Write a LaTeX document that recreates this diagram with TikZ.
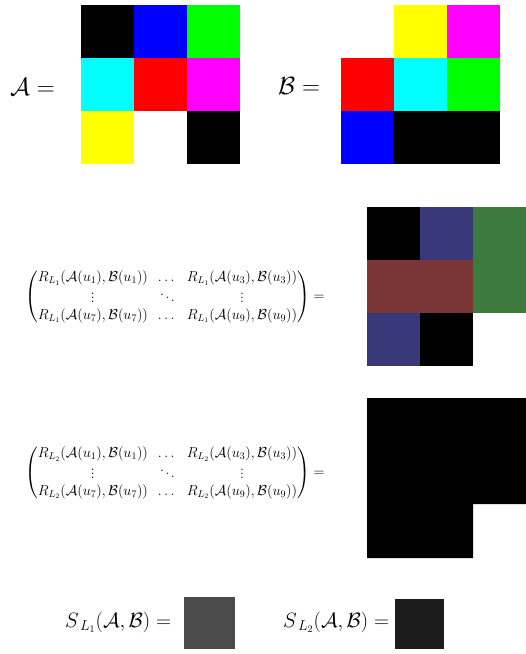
\documentclass[tikz,border=0pt]{standalone}
\usepackage{amsmath}
\definecolor{lblue}{RGB}{57,57,122}
\definecolor{lgreen}{RGB}{61,122,61}
\definecolor{lred}{RGB}{122,54,54}
\definecolor{sgrayA}{RGB}{75,75,75}
\definecolor{sgrayB}{RGB}{28,28,28}
\definecolor{pcyan}{RGB}{0,255,255}
\definecolor{pmagenta}{RGB}{255,0,255}
\definecolor{pyellow}{RGB}{255,255,0}
\definecolor{pgreen}{RGB}{0,255,0}
\definecolor{pblue}{RGB}{0,0,255}
\definecolor{pred}{RGB}{255,0,0}
\newcommand\pixcell[3]{\fill[#1] (#2,#3) rectangle ++(53,53);}
\begin{document}
\begin{tikzpicture}[x=1pt,y=-1pt]
\tikzset{
  biglbl/.style={inner sep=0pt, font=\fontsize{24}{28}\selectfont},
  matlbl/.style={inner sep=0pt, font=\fontsize{14}{17}\selectfont},
  slbl/.style={inner sep=0pt, font=\fontsize{20}{24}\selectfont}
}
\path[use as bounding box] (0,0) rectangle (526,654);
% grid A
\pixcell{black}{81}{5}\pixcell{pblue}{134}{5}\pixcell{pgreen}{187}{5}
\pixcell{pcyan}{81}{58}\pixcell{pred}{134}{58}\pixcell{pmagenta}{187}{58}
\pixcell{pyellow}{81}{111}\pixcell{black}{187}{111}
% grid B
\pixcell{pyellow}{394}{5}\pixcell{pmagenta}{447}{5}
\pixcell{pred}{341}{58}\pixcell{pcyan}{394}{58}\pixcell{pgreen}{447}{58}
\pixcell{pblue}{341}{111}\pixcell{black}{394}{111}\pixcell{black}{447}{111}
% grid L1
\pixcell{black}{367}{207}\pixcell{lblue}{420}{207}\pixcell{lgreen}{473}{207}
\pixcell{lred}{367}{260}\pixcell{lred}{420}{260}\pixcell{lgreen}{473}{260}
\pixcell{lblue}{367}{313}\pixcell{black}{420}{313}
% grid L2
\fill[black] (367,398) -- (526,398) -- (526,504) -- (473,504) -- (473,558) -- (367,558) -- cycle;
% S boxes
\fill[sgrayA] (184,597) rectangle (235,649);
\fill[sgrayB] (395,599) rectangle (444,649);
% labels
\node[biglbl, anchor=base west] (Alab) at (10,95) {$\mathcal{A} =$};
\node[biglbl, anchor=base west] (Blab) at (278,94) {$\mathcal{B} =$};
\node[matlbl, anchor=west] (M1) at (25,297) {$\begin{pmatrix}
R_{L_1}(\mathcal{A}(u_1),\mathcal{B}(u_1)) & \dots & R_{L_1}(\mathcal{A}(u_3),\mathcal{B}(u_3))\\
\vdots & \ddots & \vdots\\
R_{L_1}(\mathcal{A}(u_7),\mathcal{B}(u_7)) & \dots & R_{L_1}(\mathcal{A}(u_9),\mathcal{B}(u_9))
\end{pmatrix}=$};
\node[matlbl, anchor=west] (M2) at (25,473) {$\begin{pmatrix}
R_{L_2}(\mathcal{A}(u_1),\mathcal{B}(u_1)) & \dots & R_{L_2}(\mathcal{A}(u_3),\mathcal{B}(u_3))\\
\vdots & \ddots & \vdots\\
R_{L_2}(\mathcal{A}(u_7),\mathcal{B}(u_7)) & \dots & R_{L_2}(\mathcal{A}(u_9),\mathcal{B}(u_9))
\end{pmatrix}=$};
\node[slbl, anchor=base west] (S1) at (65,627) {$S_{\,L_1}(\mathcal{A},\mathcal{B}) =$};
\node[slbl, anchor=base west] (S2) at (283,627) {$S_{\,L_2}(\mathcal{A},\mathcal{B}) =$};
\end{tikzpicture}
\end{document}
